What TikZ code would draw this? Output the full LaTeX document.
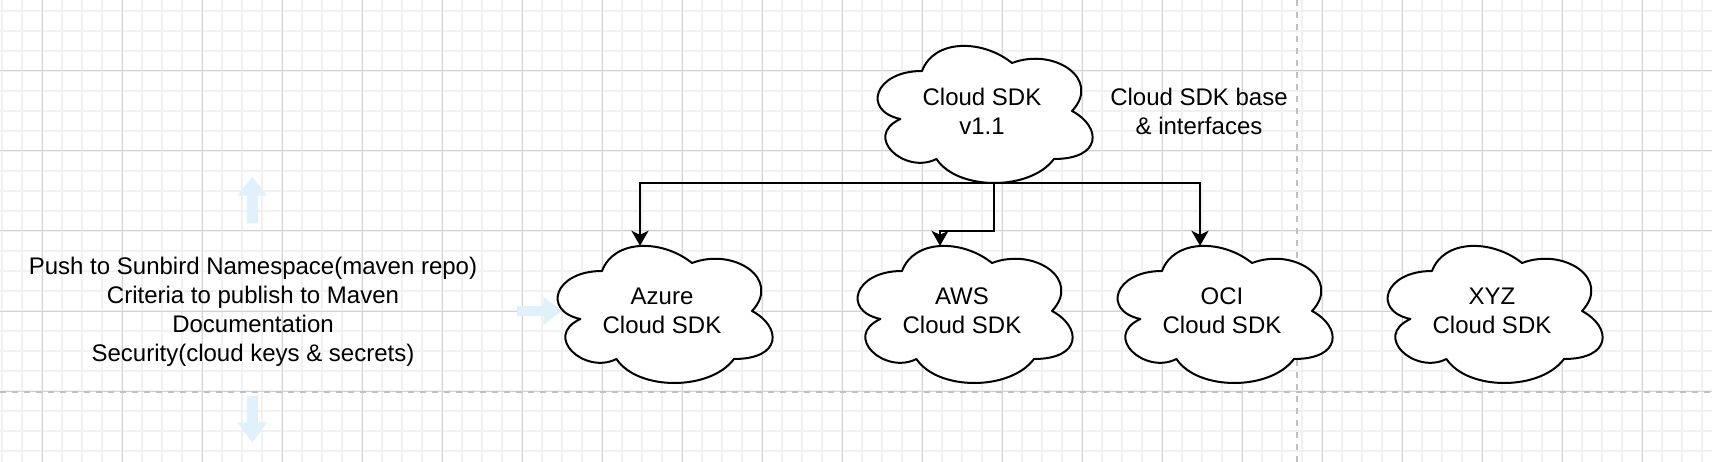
\documentclass[tikz,border=0pt]{standalone}
\usepackage{fontspec}
\setmainfont{Liberation Sans}
\usetikzlibrary{arrows.meta,calc}
\definecolor{gridminor}{RGB}{241,241,241}
\definecolor{gridmajor}{RGB}{210,210,210}
\definecolor{pagebreak}{RGB}{192,192,192}
\definecolor{hoverblue}{RGB}{224,241,252}
\newcommand{\lblfont}{\fontsize{24}{29}\selectfont}
% cloud outline (draw.io cloud) centred at #2, then a text node #1 on top of it
\newcommand{\cloudnode}[3]{%
  \begin{scope}[shift={#2}, x=240pt, y=-160pt, shift={(-0.5,-0.5)}]
    \draw[cloudline]
      (0.25,0.25) .. controls (0.05,0.25) and (0,0.5) .. (0.16,0.55)
      .. controls (0,0.66) and (0.18,0.9) .. (0.31,0.8)
      .. controls (0.4,1) and (0.7,1) .. (0.8,0.8)
      .. controls (1,0.8) and (1,0.6) .. (0.875,0.5)
      .. controls (1,0.3) and (0.8,0.1) .. (0.625,0.2)
      .. controls (0.5,0.05) and (0.3,0.05) .. (0.25,0.25) -- cycle;
  \end{scope}
  \node[cloudbox] (#1) at #2 {#3};}
\begin{document}
\begin{tikzpicture}[x=1pt,y=-1pt,
  cloudline/.style={line width=2pt, draw=black, fill=white, line join=round},
  cloudbox/.style={minimum width=240pt, minimum height=160pt, inner sep=0pt, align=center, font=\lblfont},
  plaintext/.style={align=center, font=\lblfont, inner sep=0pt},
  conn/.style={line width=2pt, draw=black, -{Stealth[length=15pt,width=17pt,inset=4pt]}},
  minorline/.style={draw=gridminor, line width=1.6pt},
  majorline/.style={draw=gridmajor, line width=1pt},
  breakline/.style={draw=pagebreak, line width=2pt, dash pattern=on 6pt off 6pt},
  hover/.style={fill=hoverblue}
]
\useasboundingbox[fill=white] (0,0) rectangle (1712,462);
% grid
\foreach \x in {2,22,...,1702} \draw[minorline] (\x,0) -- (\x,462);
\foreach \y in {11,31,...,451} \draw[minorline] (0,\y) -- (1712,\y);
\foreach \x in {42,122,...,1642} \draw[majorline] (\x,0) -- (\x,462);
\foreach \y in {71,151,...,391} \draw[majorline] (0,\y) -- (1712,\y);
% page breaks
\draw[breakline] (0,391.5) -- (1712,391.5);
\draw[breakline] (1297,0) -- (1297,462);

% clouds
\cloudnode{top}{(982,111)}{Cloud SDK\\v1.1}
\cloudnode{az}{(662,311)}{Azure\\Cloud SDK}
\cloudnode{aws}{(962,311)}{AWS\\Cloud SDK}
\cloudnode{oci}{(1222,311)}{OCI\\Cloud SDK}
\cloudnode{xyz}{(1492,311)}{XYZ\\Cloud SDK}

% texts
\node[plaintext] (base) at (1199,111) {Cloud SDK base\\\& interfaces};
\node[plaintext] (notes) at (253,311.5) {Push to Sunbird Namespace(maven repo)\\Criteria to publish to Maven\\Documentation\\Security(cloud keys \& secrets)};

% anchor points on the cloud outlines
\coordinate (topb) at ($(top.north west)+(132.3,152)$);
\coordinate (azt) at ($(az.north west)+(98.2,15)$);
\coordinate (awst) at ($(aws.north west)+(98.2,15)$);
\coordinate (ocit) at ($(oci.north west)+(98.2,15)$);

% connectors
\draw[conn] (topb) -| (azt);
\draw[conn] (topb) -| (ocit);
\draw[conn] (topb) -- ++(0,48) -| (awst);

% hover arrows round the notes text
\fill[hover] (246.8,223.3) -- (246.8,195.7) -- (237.3,195.7) -- (252.3,176.7) -- (267.3,195.7) -- (257.8,195.7) -- (257.8,223.3) -- cycle;
\fill[hover] (246.8,396) -- (246.8,422.3) -- (237.3,422.3) -- (252.3,442.7) -- (267.3,422.3) -- (257.8,422.3) -- (257.8,396) -- cycle;
\fill[hover] (517,305.8) -- (543.3,305.8) -- (543.3,297) -- (561.7,311) -- (543.3,325) -- (543.3,316.2) -- (517,316.2) -- cycle;
\end{tikzpicture}
\end{document}
